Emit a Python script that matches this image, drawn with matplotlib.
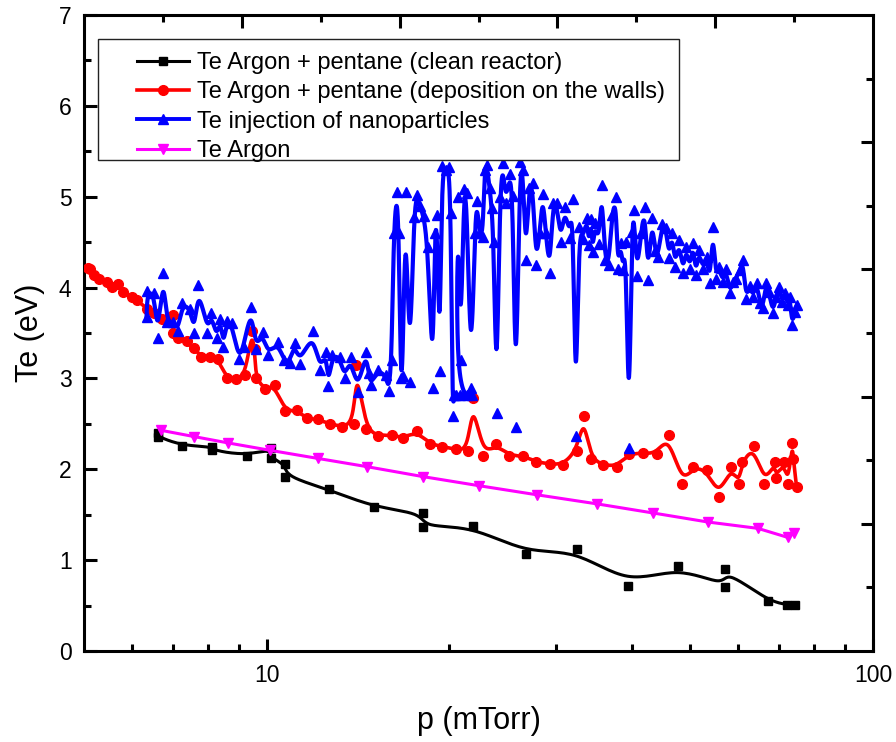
import numpy as np
import matplotlib
matplotlib.use("Agg")
import matplotlib.pyplot as plt
from matplotlib.lines import Line2D
from matplotlib.patches import Rectangle
from matplotlib.ticker import FixedLocator, NullFormatter

plt.rcParams['font.family'] = ['Liberation Sans', 'DejaVu Sans']

# ---- data: pressure p (mTorr) and electron temperature Te (eV) ----
clean_p = [6.61, 6.61, 7.26, 8.14, 8.14, 9.27, 10.16, 10.16, 10.74, 10.74, 12.66, 15.02,
           18.10, 18.10, 21.88, 26.75, 32.47, 39.43, 47.67, 56.98, 56.98, 67.11, 72.13, 74.35]
clean_te = [2.40, 2.36, 2.26, 2.25, 2.21, 2.15, 2.23, 2.12, 2.06, 1.92, 1.78, 1.58,
            1.52, 1.36, 1.38, 1.07, 1.12, 0.72, 0.94, 0.70, 0.90, 0.55, 0.51, 0.51]

walls_p = [5.07, 5.12, 5.20, 5.30, 5.45, 5.57, 5.68, 5.79, 5.99, 6.12, 6.34, 6.53, 6.72,
           7.00, 7.00, 7.15, 7.38, 7.58, 7.81, 8.08, 8.33, 8.59, 8.92, 9.23, 9.45, 9.56,
           9.59, 9.93, 10.31, 10.71, 11.21, 11.64, 12.14, 12.71, 13.30, 13.92, 14.07,
           14.56, 15.25, 16.08, 16.76, 17.68, 18.58, 19.50, 20.51, 21.47, 21.88, 22.72,
           23.89, 25.11, 26.50, 27.83, 29.31, 30.76, 32.48, 33.35, 34.23, 35.94, 37.76,
           39.55, 41.71, 43.98, 46.02, 48.40, 50.57, 53.19, 55.70, 58.30, 60.1, 60.8,
           63.6, 66.2, 68.8, 69.1, 71.3, 72.4, 73.6, 73.9, 74.8]
walls_te = [4.22, 4.20, 4.14, 4.10, 4.06, 4.01, 4.04, 3.95, 3.90, 3.86, 3.77, 3.72, 3.66,
            3.70, 3.50, 3.45, 3.41, 3.33, 3.24, 3.24, 3.21, 3.00, 2.99, 3.04, 3.52, 3.32,
            3.00, 2.88, 2.93, 2.64, 2.65, 2.56, 2.55, 2.50, 2.47, 2.50, 3.15,
            2.44, 2.37, 2.38, 2.34, 2.42, 2.28, 2.25, 2.22, 2.20, 2.78, 2.15,
            2.28, 2.15, 2.15, 2.08, 2.06, 2.05, 2.20, 2.59, 2.11, 2.05, 2.03,
            2.17, 2.18, 2.17, 2.38, 1.84, 2.03, 1.99, 1.70, 2.03, 1.84, 2.08,
            2.26, 1.84, 2.08, 1.91, 2.08, 1.84, 2.29, 2.11, 1.81]

nano_p = [6.34, 6.36, 6.53, 6.61, 6.76, 6.84, 7.00, 7.15, 7.26, 7.49, 7.60, 7.72, 7.99,
          8.11, 8.27, 8.39, 8.49, 8.59, 8.76, 8.99, 9.17, 9.44, 9.59, 9.85, 10.04, 10.43,
          10.67, 10.91, 11.12, 11.34, 11.92, 12.23, 12.54, 12.64, 12.83, 13.20, 13.45,
          13.76, 14.13, 14.56, 14.74, 14.85, 15.25, 15.72, 15.90, 16.08, 16.20, 16.39,
          16.52, 16.64, 16.76, 16.95, 17.22, 17.49, 17.68, 17.89, 18.16, 18.45, 18.79,
          18.94, 19.09, 19.30, 19.45, 19.75, 19.97, 20.12, 20.27, 20.35, 20.82, 21.38,
          21.80, 20.51, 20.67, 20.90, 21.14, 21.38, 21.72, 22.05, 22.21, 22.46, 22.72,
          22.89, 23.06, 23.33, 23.50, 23.68, 23.95, 24.24, 24.52, 24.80, 25.18, 25.47,
          25.76, 26.15, 26.46, 26.76, 27.06, 27.48, 27.80, 28.21, 28.53, 28.87, 29.31,
          29.65, 30.10, 30.56, 31.03, 31.62, 31.98, 32.35, 32.73, 33.23, 33.74, 34.00,
          34.25, 34.51, 34.77, 35.31, 35.71, 36.12, 36.68, 37.10, 37.66, 37.95, 38.38,
          38.68, 39.12, 39.57, 40.03, 40.33, 40.80, 41.42, 42.06, 42.54, 43.20, 43.70,
          44.21, 44.89, 45.57, 46.10, 46.63, 47.17, 47.89, 48.63, 49.19, 49.89, 50.47,
          51.04, 51.63, 52.42, 53.23, 53.83, 54.45, 55.07, 55.70, 56.55, 57.20, 58.08,
          58.75, 59.42, 60.33, 61.02, 61.72, 62.66, 63.38, 64.35, 65.09, 65.84, 66.59,
          67.36, 68.39, 69.18, 69.97, 70.77, 71.58, 72.40, 72.95, 73.51, 74.35, 74.92]
nano_te = [3.68, 3.96, 3.94, 3.44, 4.16, 3.62, 3.62, 3.52, 3.83, 3.77, 3.50, 4.03, 3.50,
           3.72, 3.44, 3.66, 3.35, 3.63, 3.61, 3.21, 3.35, 3.79, 3.32, 3.51, 3.26, 3.40,
           3.20, 3.17, 3.39, 3.16, 3.52, 3.09, 3.29, 2.92, 3.26, 3.24, 3.00,
           3.24, 2.85, 3.29, 3.06, 2.93, 3.09, 3.04, 2.86, 3.20, 4.60, 5.05,
           4.60, 3.00, 3.03, 5.05, 2.96, 4.78, 5.02, 4.90, 4.79, 4.45, 2.89,
           4.60, 4.80, 3.08, 5.34, 5.29, 5.33, 4.82, 2.59, 2.82, 2.82, 2.82,
           2.82, 2.82, 5.00, 3.20, 5.08, 5.04, 2.90, 4.60, 4.95, 4.60, 4.56,
           5.30, 5.35, 5.10, 4.88, 4.50, 2.62, 5.00, 5.37, 4.93, 5.25, 5.01,
           2.47, 5.38, 5.30, 4.30, 5.10, 5.15, 4.25, 4.60, 5.03, 4.60, 4.16,
           4.93, 4.93, 4.50, 4.89, 4.55, 4.97, 2.37, 4.67, 4.53, 4.77, 4.47,
           4.75, 4.39, 4.71, 4.48, 5.13, 4.30, 4.25, 4.80, 5.00, 4.21, 4.49,
           4.19, 4.50, 2.23, 4.61, 4.85, 4.13, 4.60, 4.89, 4.08, 4.77, 4.40,
           4.34, 4.70, 4.66, 4.33, 4.60, 4.23, 4.52, 4.16, 4.45, 4.20, 4.49,
           4.14, 4.41, 4.20, 4.34, 4.05, 4.67, 4.10, 4.23, 4.06, 4.21, 3.94,
           4.06, 4.10, 4.19, 4.30, 3.88, 4.02, 3.90, 4.05, 3.83, 3.78, 4.05,
           3.95, 3.72, 3.90, 4.01, 3.84, 3.94, 3.81, 3.90, 3.59, 3.73, 3.81]

argon_p = [6.69, 7.60, 8.65, 10.12, 12.15, 14.62, 18.10, 22.39, 27.89, 35.04, 43.34,
           53.43, 64.60, 72.41, 74.07]
argon_te = [2.43, 2.36, 2.29, 2.21, 2.12, 2.03, 1.92, 1.82, 1.72, 1.62, 1.52,
            1.42, 1.35, 1.25, 1.30]

labels = ["Te Argon + pentane (clean reactor)",
          "Te Argon + pentane (deposition on the walls)",
          "Te injection of nanoparticles",
          "Te Argon"]


def bspline(p, te, samples=16):
    """Clamped uniform cubic B-spline using the points as control points
    (computed in log-p so the curve is smooth on the log axis)."""
    pts = np.column_stack([np.log10(p), te])
    pts = np.vstack([pts[:1], pts[:1], pts, pts[-1:], pts[-1:]])
    t = np.linspace(0, 1, samples, endpoint=False)[:, None]
    b0 = (1 - t) ** 3 / 6
    b1 = (3 * t ** 3 - 6 * t ** 2 + 4) / 6
    b2 = (-3 * t ** 3 + 3 * t ** 2 + 3 * t + 1) / 6
    b3 = t ** 3 / 6
    segs = [b0 * pts[i] + b1 * pts[i + 1] + b2 * pts[i + 2] + b3 * pts[i + 3]
            for i in range(len(pts) - 3)]
    curve = np.vstack(segs + [pts[-1:]])
    return 10 ** curve[:, 0], curve[:, 1]


fig = plt.figure(figsize=(8.96, 7.42), dpi=100)
ax = fig.add_axes([0.09375, 0.1226, 0.8806, 0.8571])

# clean reactor
x, y = bspline(clean_p, clean_te)
ax.plot(x, y, color='black', lw=2.2, zorder=3)
ax.plot(clean_p, clean_te, ls='none', marker='s', ms=6.2, color='black', zorder=3.1)

# deposition on the walls
x, y = bspline(walls_p, walls_te)
ax.plot(x, y, color='#ff0000', lw=2.6, zorder=3.2)
ax.plot(walls_p, walls_te, ls='none', marker='o', ms=7, color='#ff0000', zorder=3.3)

# nanoparticle injection
x, y = bspline(nano_p, nano_te)
ax.plot(x, y, color='#0000ff', lw=3.0, zorder=3.4)
ax.plot(nano_p, nano_te, ls='none', marker='^', ms=7.5, color='#0000ff', zorder=3.5)

# argon only
ax.plot(argon_p, argon_te, color='#ff00ff', lw=2.2, marker='v', ms=7.5, zorder=3.6)

ax.set_xscale('log')
ax.set_xlim(5, 100)
ax.set_ylim(0, 7)
ax.xaxis.set_major_locator(FixedLocator([10, 100]))
ax.xaxis.set_minor_locator(FixedLocator([6, 7, 8, 9, 20, 30, 40, 50, 60, 70, 80, 90]))
ax.xaxis.set_minor_formatter(NullFormatter())
ax.set_xticklabels(['10', '100'])
ax.set_yticks(range(0, 8))
ax.yaxis.set_minor_locator(FixedLocator(np.arange(0.5, 7, 1.0)))

ax.tick_params(which='both', direction='in', top=False, right=False,
               width=2.2, labelsize=16.5, pad=9, color='black')
ax.tick_params(which='major', length=9)
ax.tick_params(which='minor', length=5)
for s in ax.spines.values():
    s.set_linewidth(2.2)

ax.set_xlabel('p (mTorr)', fontsize=22, labelpad=14)
ax.set_ylabel('Te (eV)', fontsize=22, labelpad=10)

# linear tick marks on the top and right frame edges
ax2 = fig.add_axes(ax.get_position(), frameon=False)
ax2.set_xlim(0, 1)
ax2.set_ylim(0, 1)
ax2.patch.set_visible(False)
ax2.xaxis.set_ticks_position('top')
ax2.yaxis.set_ticks_position('right')
ax2.set_xticks([0.2, 0.4, 0.6, 0.8])
ax2.set_yticks([0.2, 0.4, 0.6, 0.8])
ax2.xaxis.set_minor_locator(FixedLocator([0.1, 0.3, 0.5, 0.7, 0.9]))
ax2.yaxis.set_minor_locator(FixedLocator([0.1, 0.3, 0.5, 0.7, 0.9]))
ax2.tick_params(which='both', direction='in', width=2.2,
                labeltop=False, labelright=False, labelbottom=False, labelleft=False)
ax2.tick_params(which='major', length=9)
ax2.tick_params(which='minor', length=5)

# legend
handles = [
    Line2D([], [], color='black', lw=2.2, marker='s', ms=6.2),
    Line2D([], [], color='#ff0000', lw=2.6, marker='o', ms=7),
    Line2D([], [], color='#0000ff', lw=2.8, marker='^', ms=7.5),
    Line2D([], [], color='#ff00ff', lw=2.2, marker='v', ms=7.5),
]
ax.add_patch(Rectangle((0.0177, 0.772), 0.7364, 0.1903, transform=ax.transAxes,
                       facecolor='white', edgecolor='#222222', lw=1.0, zorder=4.5,
                       clip_on=False))
ax.legend(handles, labels, loc='upper left', bbox_to_anchor=(0.0672, 0.942),
          frameon=False, fontsize=17, handlelength=2.2, handletextpad=0.35,
          labelspacing=0.31, borderaxespad=0, borderpad=0, numpoints=1)

fig.savefig('out.png', dpi=100)
